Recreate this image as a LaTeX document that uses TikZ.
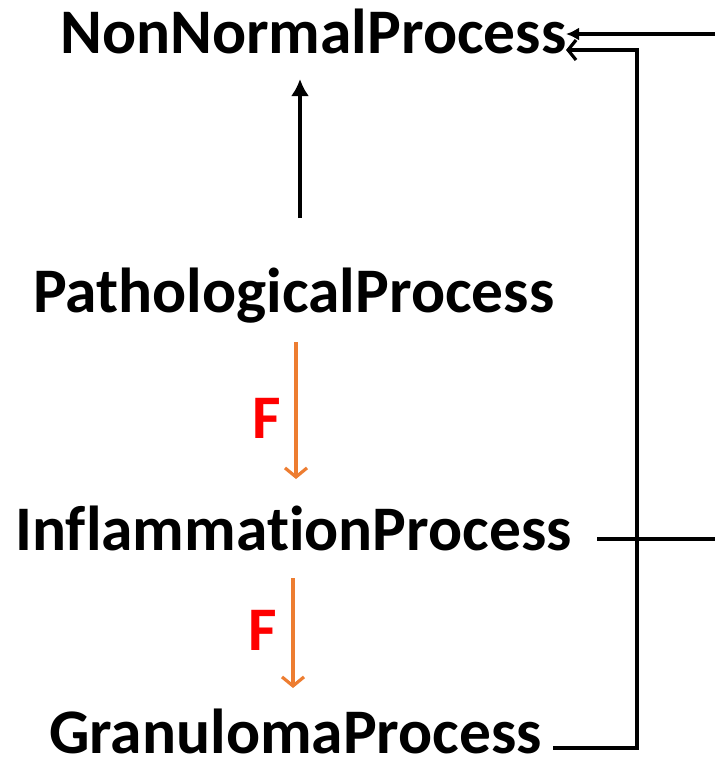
\documentclass[tikz,border=0pt]{standalone}
\usepackage{fontspec}
\setmainfont[Ligatures=NoCommon]{Carlito}
\usetikzlibrary{arrows.meta}
\definecolor{linkorange}{RGB}{237,125,49}
\begin{document}
\begin{tikzpicture}[x=1pt,y=-1pt,
  lbl/.style={anchor=base west,inner sep=0pt,text depth=0pt,font=\fontsize{63.5}{70}\selectfont\bfseries},
  flbl/.style={anchor=base west,inner sep=0pt,text=red,font=\fontsize{62}{70}\selectfont\bfseries},
  blk/.style={line width=3.2pt,draw=black},
  org/.style={line width=3.2pt,draw=linkorange,-{Straight Barb[length=9pt,width=22pt]}}]
\useasboundingbox (0,0) rectangle (715,764);
\clip (0,0) rectangle (715,764);
\node[lbl] (nn) at (60,53) {NonNormalProcess};
\node[lbl] (pp) at (33,312) {PathologicalProcess};
\node[lbl] (ip) at (15,550) {InflammationProcess};
\node[lbl] (gp) at (49,753) {GranulomaProcess};
% subsumption arrow
\coordinate (ppTop) at (300,218);
\coordinate (nnBot) at (300,79);
\draw[blk,-{Latex[length=17pt,width=18pt]}] (ppTop) -- (nnBot);
% F-links
\coordinate (a1) at (296,342); \coordinate (b1) at (296,479);
\coordinate (a2) at (293,578); \coordinate (b2) at (293,688);
\draw[org] (a1) -- (b1);
\draw[org] (a2) -- (b2);
\node[flbl] (f1) at (252,438) {F};
\node[flbl] (f2) at (248,650) {F};
% right-hand connectors
\coordinate (ipR) at (597,539);
\coordinate (gpR) at (553,748);
\coordinate (nnR1) at (566,34);
\coordinate (nnR2) at (566,50);
\draw[blk,-{Latex[length=13pt,width=13pt]}] (ipR) -- (720,539) -- (720,34) -- (nnR1);
\draw[blk,-{Straight Barb[length=8pt,width=20pt]}] (gpR) -- (637,748) -- (637,50) -- (nnR2);
\end{tikzpicture}
\end{document}
